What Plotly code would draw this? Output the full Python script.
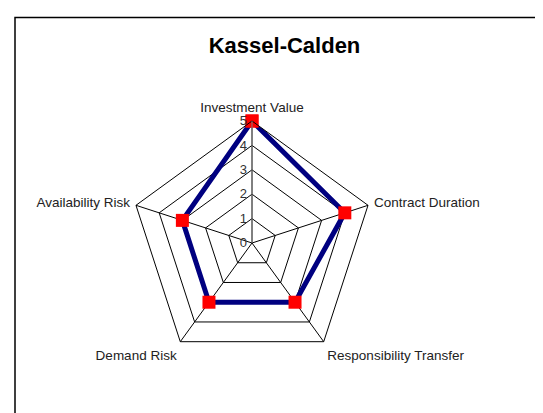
import plotly.graph_objects as go

# radar categories and scores
categories = ["Investment Value", "Contract Duration", "Responsibility Transfer",
              "Demand Risk", "Availability Risk"]
scores = [5, 4, 3, 3, 3]
tick_vals = [0, 1, 2, 3, 4, 5]

W, H = 543, 413
# domain box (px), shifted to compensate for plotly centring the pentagon
cx, cy, R = 244, 235, 122

fig = go.Figure()
fig.add_trace(go.Scatterpolar(
    r=scores + scores[:1],
    theta=categories + categories[:1],
    mode="lines+markers",
    line=dict(color="#000080", width=5),
    marker=dict(symbol="square", size=13, color="#ff0000"),
    showlegend=False,
))

fig.update_layout(
    width=W, height=H,
    margin=dict(l=0, r=0, t=0, b=0),
    paper_bgcolor="white",
    font=dict(family="Liberation Sans, Arial", size=12, color="#222"),
    title=dict(text="<b>Kassel-Calden</b>", x=276.5 / W, xanchor="center",
               y=1 - 37.5 / H, yanchor="middle",
               font=dict(size=22, color="black")),
    polar=dict(
        domain=dict(x=[(cx - R) / W, (cx + R) / W],
                    y=[(H - cy - R) / H, (H - cy + R) / H]),
        gridshape="linear",
        bgcolor="white",
        angularaxis=dict(
            rotation=90, direction="clockwise",
            linecolor="black", linewidth=1,
            gridcolor="black", gridwidth=1,
            showticklabels=True, ticks="outside", ticklen=3,
            tickcolor="rgba(0,0,0,0)",
            tickfont=dict(size=13.5, color="#222"),
        ),
        radialaxis=dict(
            range=[0, 5], tickvals=tick_vals,
            angle=90, side="counterclockwise", tickangle=90,
            linecolor="#808080", linewidth=1,
            gridcolor="black", gridwidth=1,
            ticks="", tickfont=dict(size=13, color="#333"),
        ),
    ),
    shapes=[dict(type="rect", xref="paper", yref="paper",
                 x0=7 / W, x1=1.05, y0=-0.05, y1=1 - 9.5 / H,
                 line=dict(color="black", width=1.5))],
)

fig.write_html("out.html")
